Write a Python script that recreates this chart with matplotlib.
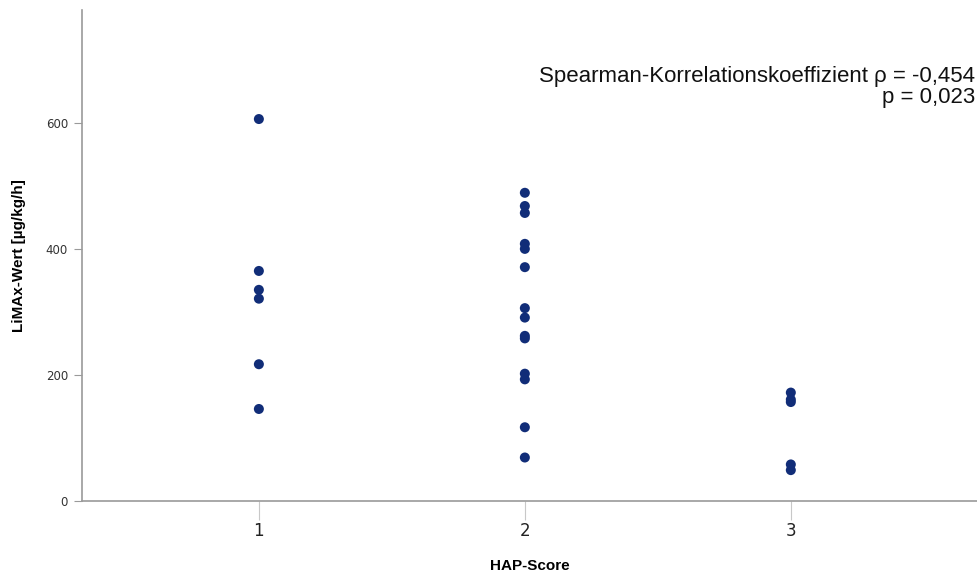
import matplotlib
matplotlib.use("Agg")
from matplotlib import pyplot as plt

hap_score = [1, 1, 1, 1, 1, 1,
             2, 2, 2, 2, 2, 2, 2, 2, 2, 2, 2, 2, 2, 2,
             3, 3, 3, 3, 3]
limax = [606, 365, 335, 321, 217, 146,
         489, 468, 457, 408, 400, 371, 306, 291, 262, 258, 202, 193, 117, 69,
         172, 161, 157, 58, 49]
x_ticks = [1, 2, 3]
y_ticks = [0, 200, 400, 600]

axis_grey = '#9a9a9a'
dot_color = '#112d78'

fig = plt.figure(figsize=(9.77, 5.74), dpi=100)
ax = fig.add_axes([82/977, 1 - 501/574, 895/977, 491/574])

ax.scatter(hap_score, limax, s=52, color=dot_color, edgecolors='none', zorder=3)

ax.set_xlim(0.335, 3.70)
ax.set_ylim(0, 779)
ax.set_xticks(x_ticks)
ax.set_yticks(y_ticks)
ax.set_xticklabels([str(v) for v in x_ticks], fontsize=12, color='#222222',
                   family='DejaVu Sans')
ax.set_yticklabels([str(v) for v in y_ticks], fontsize=8.5, color='#333333',
                   family='DejaVu Sans')

for side in ['top', 'right']:
    ax.spines[side].set_visible(False)
for side in ['left', 'bottom']:
    ax.spines[side].set_color(axis_grey)
    ax.spines[side].set_linewidth(1.2)
ax.tick_params(axis='x', length=14, width=0.8, color='#c8c8c8', pad=1)
ax.tick_params(axis='y', length=6, width=0.8, color=axis_grey, pad=4)

ax.set_xlabel('HAP-Score', fontsize=11, fontweight='bold',
              family='Liberation Sans', labelpad=14)
ax.set_ylabel('LiMAx-Wert [µg/kg/h]', fontsize=11, fontweight='bold',
              family='Liberation Sans', labelpad=14)

fig.text(975/977, 1 - 87/574, 'Spearman-Korrelationskoeffizient ρ = -0,454\np = 0,023',
         ha='right', va='center', fontsize=16, family='Liberation Sans',
         linespacing=0.95, color='#111111')

fig.savefig('out.png', dpi=100)
